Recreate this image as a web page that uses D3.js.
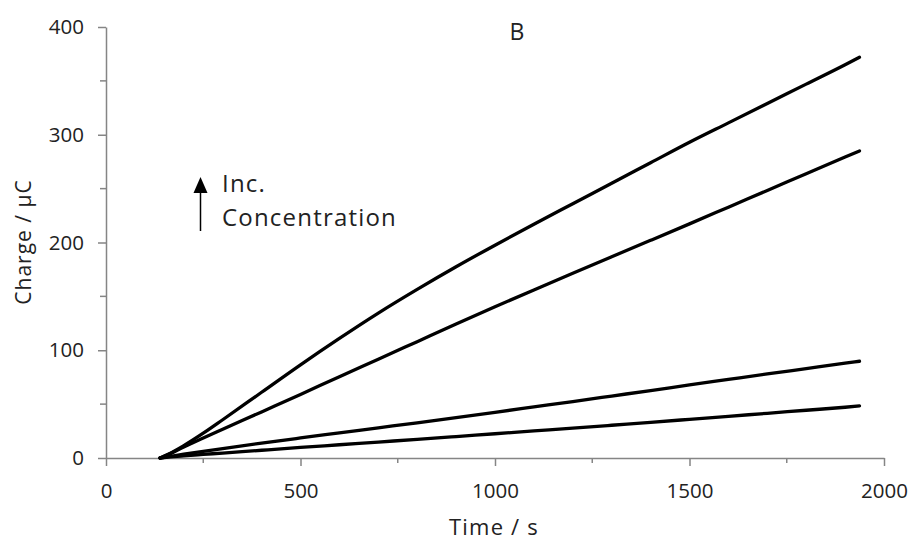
<!DOCTYPE html>
<html>
<head>
<meta charset="utf-8">
<script src="https://cdn.jsdelivr.net/npm/d3@7"></script>
<style>
  html, body { margin: 0; padding: 0; background: #fff; }
  svg { display: block; }
  text { font-family: "Open Sans", "Noto Sans", sans-serif; fill: #222; }
</style>
</head>
<body>
<svg id="chart" width="912" height="542"></svg>
<script>
// Time samples (s) shared by all four charge traces
const time = [139, 160, 200, 250, 300, 400, 500, 600, 700, 800, 900, 1000,
              1100, 1200, 1300, 1400, 1500, 1600, 1700, 1800, 1900, 1937];

// Accumulated charge (µC), lowest to highest concentration
const charge1 = [0, 0.8, 2, 3.3, 4.6, 7.2, 9.8, 12.3, 14.8, 17.3, 19.9, 22.5,
                 25.1, 27.7, 30.4, 33.1, 35.9, 38.7, 41.5, 44.3, 47.1, 48.3];
const charge2 = [0, 1.2, 3.5, 6.2, 8.8, 13.8, 18.6, 23.3, 28, 32.7, 37.5, 42.4,
                 47.4, 52.4, 57.5, 62.6, 67.8, 72.9, 78, 83, 88, 89.8];
const charge3 = [0, 3.2, 10.3, 18.5, 26.6, 42.8, 59, 75.5, 91.7, 108, 124.3, 140.3,
                 156, 171.5, 186.8, 202, 217.3, 232.8, 248.3, 263.8, 279.3, 285];
const charge4 = [0, 3.5, 11.5, 23, 35.5, 61, 86.5, 111, 134.5, 156.5, 177.5, 197.5,
                 217, 236, 255, 274, 293, 311, 329, 347, 365, 372];

const series = [charge1, charge2, charge3, charge4];

const xTicks = [0, 500, 1000, 1500, 2000];
const xMinor = [250, 750, 1250, 1750];
const yTicks = [0, 100, 200, 300, 400];
const yMinor = [50, 150, 250, 350];

const svg = d3.select("#chart");
const axisColor = "#858585";

const x = d3.scaleLinear().domain([0, 2000]).range([106, 884]);
const y = d3.scaleLinear().domain([0, 400]).range([458, 27]);

// Axes: major ticks labelled, minor ticks shorter and unlabelled
const gx = svg.append("g").attr("transform", `translate(0,${y(0)})`);
gx.call(d3.axisBottom(x).tickValues(xTicks).tickFormat(d3.format("d"))
  .tickSize(8).tickPadding(17).tickSizeOuter(0));
gx.call(g => g.selectAll(".minor").data(xMinor).join("line").attr("class", "minor")
  .attr("x1", d => x(d)).attr("x2", d => x(d)).attr("y1", 0).attr("y2", 5));

const gy = svg.append("g").attr("transform", `translate(${x(0)},0)`);
gy.call(d3.axisLeft(y).tickValues(yTicks).tickFormat(d3.format("d"))
  .tickSize(8).tickPadding(14).tickSizeOuter(0));
gy.call(g => g.selectAll(".minor").data(yMinor).join("line").attr("class", "minor")
  .attr("x1", 0).attr("x2", -6).attr("y1", d => y(d)).attr("y2", d => y(d)));

svg.selectAll(".domain, .tick line, .minor")
  .attr("stroke", axisColor).attr("stroke-width", 1.5);
svg.selectAll(".tick text")
  .style("font-family", "'Open Sans', sans-serif")
  .style("font-size", "20.5px").attr("fill", "#333");

// Charge traces
const line = d3.line()
  .x((d, i) => x(time[i]))
  .y(d => y(d))
  .curve(d3.curveMonotoneX);

svg.append("g").selectAll("path").data(series).join("path")
  .attr("d", line)
  .attr("fill", "none")
  .attr("stroke", "#000")
  .attr("stroke-width", 3.3)
  .attr("stroke-linecap", "round");

// Axis titles
svg.append("text").attr("x", 494).attr("y", 535).attr("text-anchor", "middle")
  .style("font-size", "22px").style("letter-spacing", "1.2px").text("Time / s");
svg.append("text").attr("transform", "translate(31,242) rotate(-90)")
  .attr("text-anchor", "middle").style("font-size", "21px")
  .style("letter-spacing", "1px").text("Charge / µC");

// Panel letter
svg.append("text").attr("x", 517).attr("y", 40).attr("text-anchor", "middle")
  .style("font-size", "23px").text("B");

// Concentration annotation with arrow
const arrowX = 200.5;
svg.append("line").attr("x1", arrowX).attr("x2", arrowX).attr("y1", 231).attr("y2", 190)
  .attr("stroke", "#000").attr("stroke-width", 1.5);
svg.append("path")
  .attr("d", d3.line()([[arrowX - 7, 193], [arrowX, 177], [arrowX + 7, 193]]) + "Z")
  .attr("fill", "#000");
svg.append("text").attr("x", 222).attr("y", 192).style("font-size", "24px")
  .style("letter-spacing", "1.2px").text("Inc.");
svg.append("text").attr("x", 222).attr("y", 226).style("font-size", "24px")
  .style("letter-spacing", "1.2px").text("Concentration");
</script>
</body>
</html>
